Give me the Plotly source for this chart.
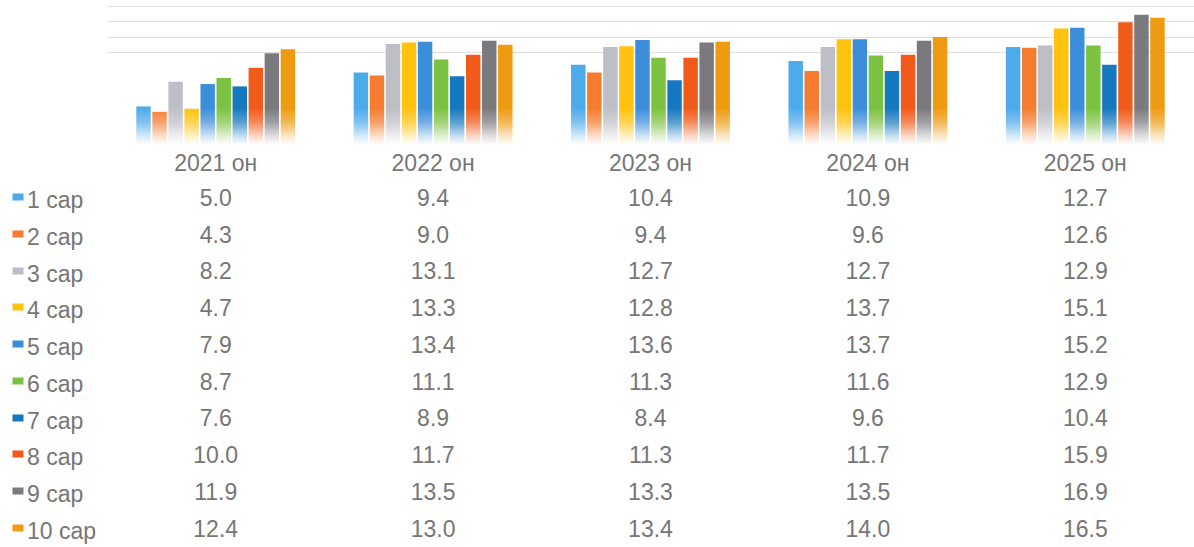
import plotly.graph_objects as go

# categories (years) and series (months)
years = ["2021 он", "2022 он", "2023 он", "2024 он", "2025 он"]
months = ["1 сар", "2 сар", "3 сар", "4 сар", "5 сар",
          "6 сар", "7 сар", "8 сар", "9 сар", "10 сар"]

# one list per month, values for 2021..2025
m1 = [5.0, 9.4, 10.4, 10.9, 12.7]
m2 = [4.3, 9.0, 9.4, 9.6, 12.6]
m3 = [8.2, 13.1, 12.7, 12.7, 12.9]
m4 = [4.7, 13.3, 12.8, 13.7, 15.1]
m5 = [7.9, 13.4, 13.6, 13.7, 15.2]
m6 = [8.7, 11.1, 11.3, 11.6, 12.9]
m7 = [7.6, 8.9, 8.4, 9.6, 10.4]
m8 = [10.0, 11.7, 11.3, 11.7, 15.9]
m9 = [11.9, 13.5, 13.3, 13.5, 16.9]
m10 = [12.4, 13.0, 13.4, 14.0, 16.5]
series = [m1, m2, m3, m4, m5, m6, m7, m8, m9, m10]

colors = ["#4DAAEB", "#F47B30", "#BEBEC6", "#FFC20E", "#3C8EDB",
          "#7CC242", "#1679BF", "#F05A1A", "#7A7A7E", "#EE9B12"]

W, H = 1194, 547
L = 107  # left margin, px
txt = "#767676"
fnt = "Liberation Sans, Arial, sans-serif"

fig = go.Figure()

# bars
for name, vals, c in zip(months, series, colors):
    fig.add_trace(go.Bar(x=years, y=vals, name=name, marker_color=c,
                         marker_line_width=0, showlegend=False,
                         xaxis="x", yaxis="y"))

# white fade over the bottom of the bars
fig.add_trace(go.Scatter(
    x=[0, 1, 1, 0, 0], y=[0, 0, 4.8, 4.8, 0], mode="lines",
    fill="toself", line=dict(width=0), hoverinfo="skip", showlegend=False,
    fillgradient=dict(type="vertical", colorscale=[
        [0, "rgba(255,255,255,1)"], [0.25, "rgba(255,255,255,0.75)"],
        [0.6, "rgba(255,255,255,0.3)"], [1, "rgba(255,255,255,0)"]]),
    xaxis="x3", yaxis="y"))

# data table values
for name, vals in zip(months, series):
    fig.add_trace(go.Scatter(
        x=years, y=[name] * len(years), mode="text",
        text=[f"{v:.1f}" for v in vals],
        textfont=dict(family=fnt, size=23, color=txt),
        showlegend=False, hoverinfo="skip", xaxis="x2", yaxis="y2"))

# row labels + colour keys
for name, c in zip(months, colors):
    fig.add_annotation(x=(25 - L) / (W - L), xref="paper",
                       y=name, yref="y2", xanchor="left",
                       text=name, showarrow=False,
                       font=dict(family=fnt, size=23, color=txt))
    fig.add_annotation(x=(12 - L) / (W - L), xref="paper", xanchor="left",
                       y=name, yref="y2", yshift=3, text=" ",
                       width=10, height=6, borderpad=0, bgcolor=c,
                       showarrow=False, font=dict(size=4))

# table rows: first row centred at y=200 px, last at 531 px
row_px = (531 - 200) / 9
top_row = -(200 - 170) / row_px
bottom_row = (H - 200) / row_px

fig.update_layout(
    width=W, height=H,
    margin=dict(l=L, r=0, t=0, b=0),
    plot_bgcolor="white", paper_bgcolor="white",
    barmode="group", bargap=0.262, bargroupgap=0.1,
    font=dict(family=fnt, color=txt),
    xaxis=dict(domain=[0, 1], showgrid=False, showline=False, ticks="",
               tickfont=dict(family=fnt, size=23, color=txt),
               ticklabelstandoff=2, anchor="y"),
    yaxis=dict(domain=[1 - 145 / H, 1 - 5 / H], range=[0, 18.15],
               tickvals=[12, 14, 16, 18], showticklabels=False,
               gridcolor="#e0e0e0", gridwidth=1, zeroline=False,
               showline=False, ticks=""),
    xaxis2=dict(domain=[0, 1], anchor="y2", categoryorder="array",
                categoryarray=years, range=[-0.5, 4.5], visible=False),
    yaxis2=dict(domain=[0, 1 - 170 / H], range=[bottom_row, top_row],
                categoryorder="array", categoryarray=months,
                type="category", visible=False),
    xaxis3=dict(overlaying="x", range=[0, 1], visible=False),
)

fig.write_html("out.html", config={"displayModeBar": False},
               post_script="document.body.style.margin='0';")
